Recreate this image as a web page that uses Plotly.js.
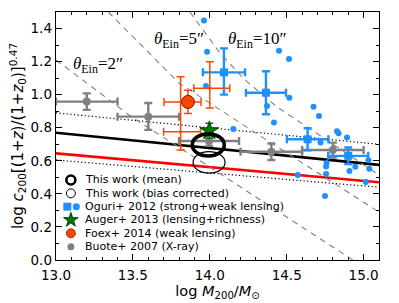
<!DOCTYPE html>
<html><head><meta charset="utf-8">
<script src="https://cdn.plot.ly/plotly-3.0.1.min.js"></script>
<style>html,body{margin:0;padding:0;background:#fff}#chart{width:399px;height:303px}</style>
</head><body><div id="chart"></div>
<script>
// ---- data ----
const fitX = [13.0, 15.1];
const meanFitY = [0.77, 0.575];
const meanUpperY = [0.89, 0.70];
const biasFitY = [0.645, 0.47];
const biasLowerY = [0.605, 0.44];

const ein2X = [13.0, 13.5, 14.0, 14.5, 14.93];
const ein2Y = [1.21, 0.86, 0.562, 0.258, 0.0];
const ein5X = [13.34, 13.8, 14.35, 15.1];
const ein5Y = [1.5, 1.07, 0.737, 0.29];
const ein10X = [13.871, 14.066, 14.229, 14.437, 14.632, 15.1];
const ein10Y = [1.5, 1.252, 1.089, 0.926, 0.805, 0.514];
const einLabels = ['2″', '5″', '10″'];

const thisWorkX = [13.99, 13.995];
const thisWorkY = [0.696, 0.59];
const thisWorkErrX = [0.104, 0.104];
const thisWorkErrY = [0.067, 0.065];

const oguriIndX = [13.962, 13.982, 13.975, 14.450, 14.515, 14.372, 14.517, 14.417, 14.674, 14.710,
  14.153, 14.827, 14.837, 14.892, 14.720, 14.759, 14.756, 14.756, 14.908, 14.946,
  15.031, 15.037, 14.572, 15.015, 14.749];
const oguriIndY = [1.448, 1.260, 1.053, 1.266, 1.216, 0.932, 0.982, 0.832, 0.927, 0.871,
  0.792, 0.779, 0.766, 0.741, 0.711, 0.587, 0.566, 0.520, 0.538, 0.564,
  0.604, 0.552, 0.514, 0.472, 0.387];

const oguriStackX = [14.092, 14.365, 14.636, 14.90];
const oguriStackY = [1.135, 1.012, 0.730, 0.630];
const oguriStackXerr = [0.137, 0.13, 0.135, 0.13];
const oguriStackYerrPlus = [0.145, 0.13, 0.067, 0.05];
const oguriStackYerrMinus = [0.135, 0.13, 0.067, 0.05];

const augerX = [13.997];
const augerY = [0.782];
const augerYerr = [0.045];

const foexStackX = [13.858];
const foexStackY = [0.956];
const foexStackXerrPlus = [0.085];
const foexStackXerrMinus = [0.156];
const foexStackYerr = [0.07];

const foexX = [13.81, 14.0];
const foexY = [0.776, 1.039];
const foexXerrPlus = [0.13, 0.13];
const foexXerrMinus = [0.11, 0.104];
const foexYerrPlus = [0.333, 0.16];
const foexYerrMinus = [0.111, 0.12];

const buoteX = [13.2, 13.6, 13.995, 14.4, 14.8];
const buoteY = [0.958, 0.867, 0.72, 0.655, 0.665];
const buoteXerr = [0.2, 0.2, 0.195, 0.2, 0.2];
const buoteYerrPlus = [0.05, 0.083, 0.03, 0.05, 0.045];
const buoteYerrMinus = [0.05, 0.08, 0.03, 0.05, 0.045];

const legendLabels = ['This work (mean)', 'This work (bias corrected)', 'Oguri+ 2012 (strong+weak lensing)',
  'Auger+ 2013 (lensing+richness)', 'Foex+ 2014 (weak lensing)', 'Buote+ 2007 (X-ray)'];

// ---- styles ----
const BLUE = '#1e90ff', ORANGE = '#ff4500', GRAY = '#808080', GREEN = '#007a00';
const traces = [];
const line = (x, y, color, width, dash) => ({x, y, mode: 'lines', type: 'scatter', hoverinfo: 'skip',
  line: {color, width, dash}, showlegend: false});

traces.push(line(fitX, meanUpperY, 'black', 1.2, '1.2px,2.4px'));
traces.push(line(fitX, biasLowerY, 'black', 1.2, '1.2px,2.4px'));
traces.push(line(fitX, meanFitY, 'black', 2.6, 'solid'));
traces.push(line(fitX, biasFitY, 'red', 2.6, 'solid'));
traces.push(line(ein2X, ein2Y, GRAY, 1.1, '6px,5px'));
traces.push(line(ein5X, ein5Y, GRAY, 1.1, '6px,5px'));
traces.push(line(ein10X, ein10Y, GRAY, 1.1, '6px,5px'));

traces.push({x: buoteX, y: buoteY, mode: 'markers', type: 'scatter', showlegend: false,
  marker: {color: GRAY, size: 8},
  error_x: {type: 'data', array: buoteXerr, color: GRAY, thickness: 2.4, width: 4},
  error_y: {type: 'data', symmetric: false, array: buoteYerrPlus, arrayminus: buoteYerrMinus, color: GRAY, thickness: 2.4, width: 4}});

traces.push({x: oguriIndX, y: oguriIndY, mode: 'markers', type: 'scatter', showlegend: false,
  marker: {color: BLUE, size: 6}});

traces.push({x: oguriStackX, y: oguriStackY, mode: 'markers', type: 'scatter', showlegend: false,
  marker: {color: BLUE, size: 8, symbol: 'square'},
  error_x: {type: 'data', array: oguriStackXerr, color: BLUE, thickness: 2.4, width: 4},
  error_y: {type: 'data', symmetric: false, array: oguriStackYerrPlus, arrayminus: oguriStackYerrMinus, color: BLUE, thickness: 2.4, width: 4}});

traces.push({x: foexX, y: foexY, mode: 'markers', type: 'scatter', showlegend: false,
  marker: {color: ORANGE, size: 3},
  error_x: {type: 'data', symmetric: false, array: foexXerrPlus, arrayminus: foexXerrMinus, color: ORANGE, thickness: 1.5, width: 4},
  error_y: {type: 'data', symmetric: false, array: foexYerrPlus, arrayminus: foexYerrMinus, color: ORANGE, thickness: 1.5, width: 4}});

traces.push({x: foexStackX, y: foexStackY, mode: 'markers', type: 'scatter', showlegend: false,
  marker: {color: ORANGE, size: 13, line: {color: '#7a1a00', width: 1}},
  error_x: {type: 'data', symmetric: false, array: foexStackXerrPlus, arrayminus: foexStackXerrMinus, color: ORANGE, thickness: 1.5, width: 4},
  error_y: {type: 'data', array: foexStackYerr, color: ORANGE, thickness: 1.5, width: 4}});

traces.push({x: augerX, y: augerY, mode: 'markers', type: 'scatter', showlegend: false,
  marker: {color: GREEN, size: 14, symbol: 'star', line: {color: '#002200', width: 0.8}},
  error_y: {type: 'data', array: augerYerr, color: GREEN, thickness: 1.5, width: 4}});

// ---- legend keys on an overlay axis (0..1 over the plot area) ----
const rowY = [0.3226, 0.2688, 0.2149, 0.1613, 0.1075, 0.0536];
const key = (x, y, marker) => ({x: [x], y: [y], xaxis: 'x2', yaxis: 'y2', mode: 'markers', type: 'scatter',
  showlegend: false, hoverinfo: 'skip', marker});
traces.push(key(0.046, rowY[0], {size: 9, color: 'rgba(0,0,0,0)', line: {color: 'black', width: 2.6}}));
traces.push(key(0.046, rowY[1], {size: 9, color: 'rgba(0,0,0,0)', line: {color: 'black', width: 1}}));
traces.push(key(0.035, rowY[2], {size: 8, color: BLUE, symbol: 'square'}));
traces.push(key(0.063, rowY[2], {size: 7, color: BLUE}));
traces.push(key(0.046, rowY[3], {size: 11, color: GREEN, symbol: 'star', line: {color: '#002200', width: 0.8}}));
traces.push(key(0.046, rowY[4], {size: 9, color: ORANGE, line: {color: '#7a1a00', width: 0.8}}));
traces.push(key(0.046, rowY[5], {size: 7, color: GRAY}));

const annotations = legendLabels.map((t, i) => ({text: t, xref: 'paper', yref: 'paper', x: 0.083, y: rowY[i],
  xanchor: 'left', yanchor: 'middle', showarrow: false, font: {family: 'DejaVu Sans', size: 11, color: 'black'}}));
const einPos = [[13.27, 1.18], [13.8, 1.33], [14.31, 1.33]];
einLabels.forEach((t, i) => annotations.push({text: '<i>θ</i><sub>Ein</sub>=' + t, xref: 'x', yref: 'y',
  x: einPos[i][0], y: einPos[i][1], showarrow: false, xanchor: 'center', yanchor: 'middle',
  font: {family: 'Liberation Serif', size: 17, color: 'black'}}));

const shapes = thisWorkX.map((x, i) => ({type: 'circle', xref: 'x', yref: 'y', layer: 'above',
  x0: x - thisWorkErrX[i], x1: x + thisWorkErrX[i], y0: thisWorkY[i] - thisWorkErrY[i], y1: thisWorkY[i] + thisWorkErrY[i],
  line: {color: 'black', width: i === 0 ? 3.6 : 1.2}, fillcolor: 'rgba(0,0,0,0)'}));

const axisCommon = {showline: true, linecolor: 'black', linewidth: 1.3, mirror: 'allticks', ticks: 'inside',
  ticklen: 6, tickwidth: 1, tickcolor: 'black', showgrid: false, zeroline: false, tickformat: '.1f',
  tickfont: {family: 'DejaVu Sans', size: 13.5, color: 'black'}};

const layout = {
  width: 399, height: 303, margin: {l: 56, r: 20, t: 12, b: 43},
  paper_bgcolor: 'white', plot_bgcolor: 'white', showlegend: false,
  xaxis: Object.assign({}, axisCommon, {range: [13.0, 15.1], tick0: 13, dtick: 0.5, ticklabelstandoff: 2,
    minor: {ticks: 'inside', ticklen: 3, dtick: 0.1, tick0: 13, tickcolor: 'black'},
    title: {text: 'log <i>M</i><sub>200</sub>/<i>M</i><sub>⊙</sub>', standoff: 4,
      font: {family: 'DejaVu Sans', size: 14.5, color: 'black'}}}),
  yaxis: Object.assign({}, axisCommon, {range: [0, 1.5], tick0: 0, dtick: 0.2,
    minor: {ticks: 'inside', ticklen: 3, dtick: 0.1, tick0: 0, tickcolor: 'black'},
    title: {text: 'log <i>c</i><sub>200</sub>[(1+<i>z</i>)/(1+<i>z</i><sub>0</sub>)]<sup>0.47</sup>', standoff: 3,
      font: {family: 'DejaVu Sans', size: 15, color: 'black'}}}),
  xaxis2: {overlaying: 'x', range: [0, 1], visible: false, side: 'top'},
  yaxis2: {overlaying: 'y', range: [0, 1], visible: false, side: 'right'},
  annotations, shapes
};

Plotly.newPlot('chart', traces, layout, {staticPlot: true, displayModeBar: false});
</script></body></html>
